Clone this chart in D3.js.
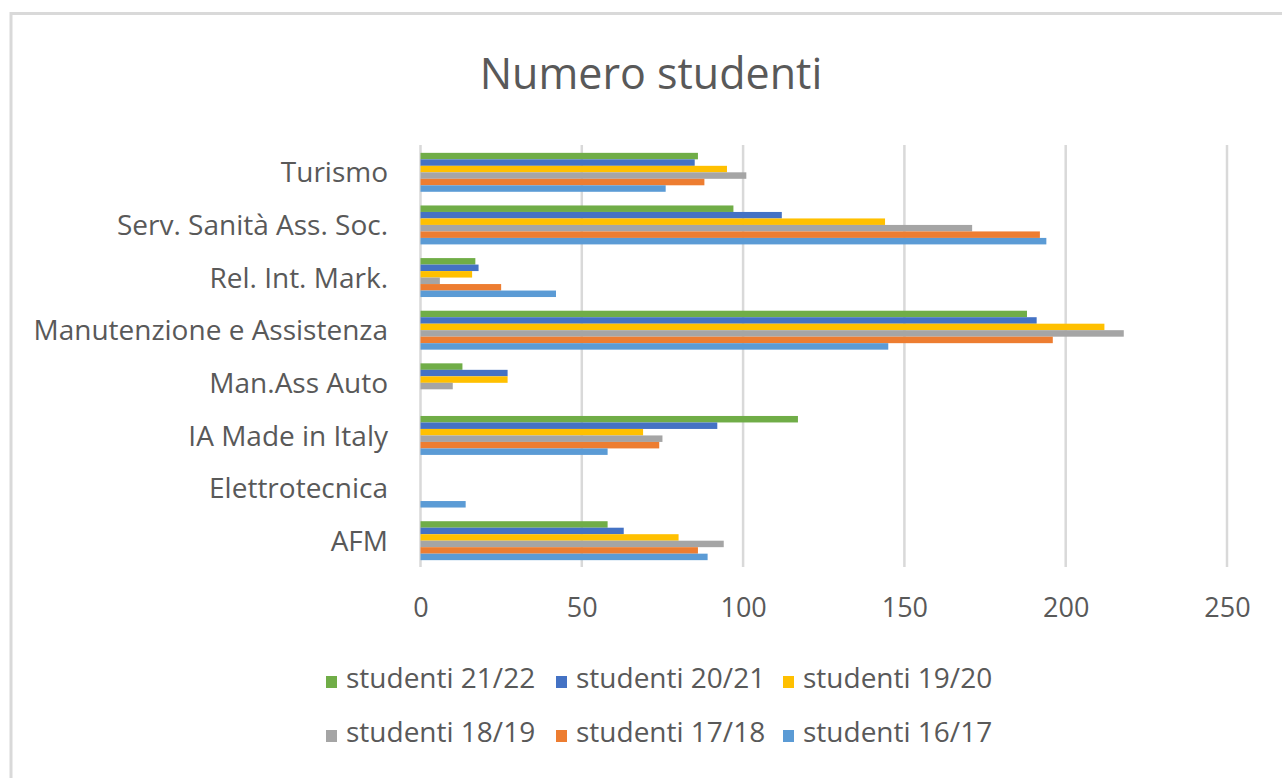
<!DOCTYPE html>
<html>
<head>
<meta charset="utf-8">
<script src="https://cdn.jsdelivr.net/npm/d3@7"></script>
<style>
  html, body { margin: 0; padding: 0; background: #fff; }
  svg { display: block; }
  text { font-family: "Open Sans", "Noto Sans", sans-serif; fill: #595959; }
</style>
</head>
<body>
<svg id="chart" width="1282" height="778"></svg>
<script>
// ---- data ----
const categories = ["AFM", "Elettrotecnica", "IA Made in Italy", "Man.Ass Auto",
  "Manutenzione e Assistenza", "Rel. Int. Mark.", "Serv. Sanità Ass. Soc.", "Turismo"];
const seriesNames = ["studenti 21/22", "studenti 20/21", "studenti 19/20",
  "studenti 18/19", "studenti 17/18", "studenti 16/17"];
const studenti_21_22 = [58, 0, 117, 13, 188, 17, 97, 86];
const studenti_20_21 = [63, 0, 92, 27, 191, 18, 112, 85];
const studenti_19_20 = [80, 0, 69, 27, 212, 16, 144, 95];
const studenti_18_19 = [94, 0, 75, 10, 218, 6, 171, 101];
const studenti_17_18 = [86, 0, 74, 0, 196, 25, 192, 88];
const studenti_16_17 = [89, 14, 58, 0, 145, 42, 194, 76];
const xTicks = [0, 50, 100, 150, 200, 250];
const seriesColors = ["#70ad47", "#4472c4", "#ffc000", "#a5a5a5", "#ed7d31", "#5b9bd5"];

const seriesValues = [studenti_21_22, studenti_20_21, studenti_19_20,
  studenti_18_19, studenti_17_18, studenti_16_17];

// ---- layout ----
const svg = d3.select("#chart");

// outer chart border (cropped)
svg.append("rect")
  .attr("x", 11).attr("y", 13.5)
  .attr("width", 1400).attr("height", 900)
  .attr("fill", "#fff").attr("stroke", "#d9d9d9").attr("stroke-width", 3);

// title
svg.append("text")
  .attr("x", 651).attr("y", 89)
  .attr("text-anchor", "middle")
  .style("font-size", "43px")
  .text("Numero studenti");

const x = d3.scaleLinear().domain([0, 250]).range([420.5, 1227]);
const y = d3.scaleBand()
  .domain(categories.slice().reverse())
  .range([146, 567])
  .paddingInner(0.26)
  .paddingOuter(0.13);
const ySub = d3.scaleBand()
  .domain(seriesNames)
  .range([0, y.bandwidth()]);

// gridlines
svg.append("g").selectAll("line")
  .data(xTicks).join("line")
  .attr("x1", d => x(d)).attr("x2", d => x(d))
  .attr("y1", 145).attr("y2", 567)
  .attr("stroke", "#d9d9d9").attr("stroke-width", 2.5);

// bars
const groups = svg.append("g").selectAll("g")
  .data(categories).join("g")
  .attr("transform", d => `translate(0,${y(d)})`);

groups.selectAll("rect")
  .data((c, ci) => seriesNames.map((s, si) => ({ s, si, v: seriesValues[si][ci] })))
  .join("rect")
  .attr("x", x(0))
  .attr("y", d => ySub(d.s))
  .attr("width", d => x(d.v) - x(0))
  .attr("height", ySub.bandwidth())
  .attr("fill", d => seriesColors[d.si]);

// x axis labels
const xAxis = d3.axisBottom(x).tickValues(xTicks).tickSize(0).tickPadding(0);
const gx = svg.append("g").attr("transform", "translate(0,598)").call(xAxis);
gx.select(".domain").remove();
gx.selectAll("text")
  .attr("dy", 0).attr("y", 18.5)
  .style("font-size", "27px")
  .style("font-family", "'Open Sans', 'Noto Sans', sans-serif")
  .attr("fill", "#595959");

// y axis labels
const yAxis = d3.axisLeft(y).tickSize(0).tickPadding(0);
const gy = svg.append("g").attr("transform", "translate(388,0)").call(yAxis);
gy.select(".domain").remove();
gy.selectAll("text")
  .attr("dy", "0.36em")
  .style("font-size", "28px")
  .style("font-family", "'Open Sans', 'Noto Sans', sans-serif")
  .attr("fill", "#595959");

// legend
const legendPos = [
  { x: 326, y: 688 }, { x: 556, y: 688 }, { x: 783, y: 688 },
  { x: 326, y: 742 }, { x: 556, y: 742 }, { x: 783, y: 742 }
];
const leg = svg.append("g").selectAll("g")
  .data(seriesNames).join("g")
  .attr("transform", (d, i) => `translate(${legendPos[i].x},${legendPos[i].y})`);
leg.append("rect")
  .attr("x", 0).attr("y", -12).attr("width", 11).attr("height", 12)
  .attr("fill", (d, i) => seriesColors[i]);
leg.append("text")
  .attr("x", 20).attr("y", 0)
  .style("font-size", "28px")
  .text(d => d);
</script>
</body>
</html>
